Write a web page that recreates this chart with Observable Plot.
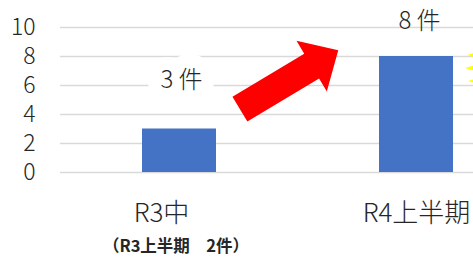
<!DOCTYPE html>
<html><head><meta charset="utf-8">
<script src="https://cdn.jsdelivr.net/npm/d3@7"></script>
<script src="https://cdn.jsdelivr.net/npm/@observablehq/plot@0.6"></script>
<style>
body{margin:0;background:#fff;font-family:"Noto Sans CJK JP","Noto Sans",sans-serif;}
#chart{position:relative;width:473px;height:261px;overflow:hidden;}
#note{position:absolute;left:0;top:235px;width:352px;text-align:center;font-weight:bold;font-size:16.5px;line-height:21px;color:#262626;}
</style></head><body><div id="chart"></div>
<script>
const categories = ["R3中", "R4上半期"];
const counts = [3, 8];
const labels = ["3 件", "8 件"];
const yTicks = [0, 2, 4, 6, 8, 10];
const note = "（R3上半期　2件）";

const data = categories.map((c, i) => ({category: c, count: counts[i], label: labels[i]}));

function decorations(index, scales) {
  const sx = scales.x, sy = scales.y;
  const bw = typeof sx.bandwidth === "function" ? sx.bandwidth() : 0;
  const c0 = sx(categories[0]) + bw / 2, c1 = sx(categories[1]) + bw / 2;
  const g = d3.create("svg:g");
  // red block arrow (from between the bars up toward the second bar)
  const x0 = c0 + (c1 - c0) * 0.257, y0 = sy(4.34);
  const x1 = c0 + (c1 - c0) * 0.672, y1 = sy(8.4);
  const shaft = 29, headW = 59, headL = 31;
  const dx = x1 - x0, dy = y1 - y0, L = Math.hypot(dx, dy);
  const ux = dx / L, uy = dy / L, nx = -uy, ny = ux;
  const bx = x1 - ux * headL, by = y1 - uy * headL;
  const pts = [
    [x0 + nx * shaft / 2, y0 + ny * shaft / 2],
    [bx + nx * shaft / 2, by + ny * shaft / 2],
    [bx + nx * headW / 2, by + ny * headW / 2],
    [x1, y1],
    [bx - nx * headW / 2, by - ny * headW / 2],
    [bx - nx * shaft / 2, by - ny * shaft / 2],
    [x0 - nx * shaft / 2, y0 - ny * shaft / 2]
  ];
  g.append("polygon").attr("points", pts.map(p => p.join(",")).join(" ")).attr("fill", "#ff0000");
  // yellow sparks at right edge
  const right = sx(categories[1]) + bw;
  [[8.07, 14], [7.17, 12], [6.28, 15]].forEach(([v, off]) => {
    const tx = right + off, ty = sy(v);
    g.append("polygon")
      .attr("points", `${tx},${ty} ${tx + 12},${ty - 3.5} ${tx + 12},${ty + 3.5}`)
      .attr("fill", "#ffff00");
  });
  return g.node();
}

const plot = Plot.plot({
  width: 473,
  height: 232,
  marginLeft: 60,
  marginRight: 0,
  marginTop: 27,
  marginBottom: 60,
  style: {fontFamily: '"Noto Sans CJK JP","Noto Sans",sans-serif', background: "#fff", overflow: "visible"},
  x: {domain: categories, range: [60, 534], paddingInner: 0.689, paddingOuter: 0.344, label: null},
  y: {domain: [0, 10], label: null},
  marks: [
    Plot.ruleY(yTicks, {stroke: "#d9d9d9", strokeWidth: 1.5}),
    Plot.barY(data, {x: "category", y: "count", fill: "#4472C4"}),
    Plot.axisY(yTicks, {tickSize: 0, tickPadding: 25, fontSize: 23, fill: "#262626", fontWeight: 300}),
    Plot.axisX([categories[0]], {tickSize: 0, tickPadding: 31, dx: -18, fontSize: 26, fill: "#262626", fontWeight: 300}),
    Plot.axisX([categories[1]], {tickSize: 0, tickPadding: 31, fontSize: 26, fill: "#262626", fontWeight: 300}),
    decorations,
    Plot.text(data, {filter: d => d.category === categories[0], x: "category", y: "count", text: "label", dy: -49, dx: 2,
      fontSize: 24, fill: "#262626", stroke: "white", strokeWidth: 26, strokeLinejoin: "round", fontWeight: 300}),
    Plot.text(data, {filter: d => d.category === categories[1], x: "category", y: "count", text: "label", dy: -35, dx: 3,
      fontSize: 24, fill: "#262626", fontWeight: 300})
  ]
});
const chart = document.getElementById("chart");
chart.appendChild(plot);
const n = document.createElement("div");
n.id = "note";
n.textContent = note;
chart.appendChild(n);
</script></body></html>
